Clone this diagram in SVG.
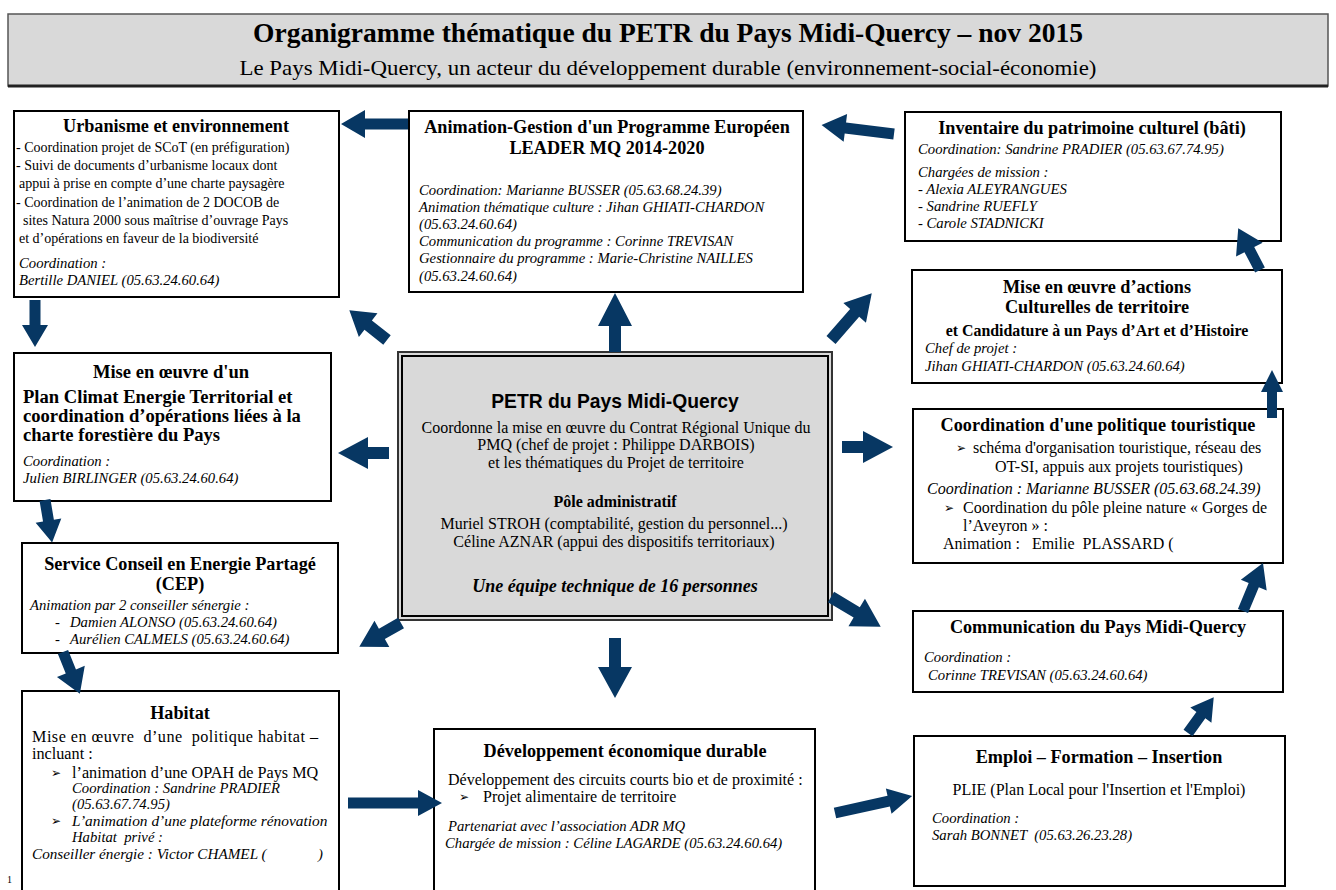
<svg xmlns="http://www.w3.org/2000/svg" width="1336" height="890" viewBox="0 0 1336 890">
<style>
.box{fill:#fff;stroke:#000;stroke-width:2}
.s{font-family:"Liberation Serif","Times New Roman",serif;fill:#000}
.t{font-family:"Liberation Serif","Times New Roman",serif;font-size:18.2px;font-weight:bold;text-anchor:middle;fill:#000}
.ts{font-family:"Liberation Serif","Times New Roman",serif;font-size:18.6px;font-weight:bold;fill:#000}
.b{font-family:"Liberation Serif","Times New Roman",serif;font-size:14px;fill:#000}
.b16{font-family:"Liberation Serif","Times New Roman",serif;font-size:16px;fill:#000}
.i{font-family:"Liberation Serif","Times New Roman",serif;font-size:14.7px;font-style:italic;fill:#000}
.c{text-anchor:middle}
.bul{font-family:"DejaVu Sans",sans-serif;font-size:12px;fill:#000}
.arr{fill:#073763}
</style>
<rect width="1336" height="890" fill="#fff"/>
<g id="header">
<rect x="8" y="14" width="1320" height="72" fill="#d9d9d9" stroke="#555" stroke-width="1.5"/>
<line x1="8" y1="86" x2="1328" y2="86" stroke="#222" stroke-width="3"/>
<text class="s" x="668" y="42" font-size="27.5" font-weight="bold" text-anchor="middle">Organigramme thématique du PETR du Pays Midi-Quercy – nov 2015</text>
<text class="s" x="668" y="75" font-size="22" text-anchor="middle" textLength="857" lengthAdjust="spacingAndGlyphs">Le Pays Midi-Quercy, un acteur du développement durable (environnement-social-économie)</text>
</g>
<g id="urbanisme">
<rect class="box" x="14" y="111" width="325" height="186"/>
<text class="t" x="176" y="132">Urbanisme et environnement</text>
<text class="b" x="16" y="152">- Coordination projet de SCoT (en préfiguration)</text>
<text class="b" x="16" y="170">- Suivi de documents d’urbanisme locaux dont</text>
<text class="b" x="19" y="188">appui à prise en compte d’une charte paysagère</text>
<text class="b" x="16" y="207">- Coordination de l’animation de 2 DOCOB de</text>
<text class="b" x="23" y="225">sites Natura 2000 sous maîtrise d’ouvrage Pays</text>
<text class="b" x="19" y="243">et d’opérations en faveur de la biodiversité</text>
<text class="i" x="19" y="268">Coordination :</text>
<text class="i" x="19" y="285">Bertille DANIEL (05.63.24.60.64)</text>
</g>
<g id="leader">
<rect class="box" x="409" y="111" width="394" height="181"/>
<text class="t" x="607" y="133">Animation-Gestion d'un Programme Européen</text>
<text class="t" x="607" y="154">LEADER MQ 2014-2020</text>
<text class="i" x="419" y="195">Coordination: Marianne BUSSER (05.63.68.24.39)</text>
<text class="i" x="419" y="212">Animation thématique culture : Jihan GHIATI-CHARDON</text>
<text class="i" x="419" y="229">(05.63.24.60.64)</text>
<text class="i" x="419" y="246">Communication du programme : Corinne TREVISAN</text>
<text class="i" x="419" y="263">Gestionnaire du programme : Marie-Christine NAILLES</text>
<text class="i" x="419" y="281">(05.63.24.60.64)</text>
</g>
<g id="inventaire">
<rect class="box" x="905" y="112" width="376" height="129"/>
<text class="t" x="1092" y="134">Inventaire du patrimoine culturel (bâti)</text>
<text class="i" x="918" y="154">Coordination: Sandrine PRADIER (05.63.67.74.95)</text>
<text class="i" x="918" y="177">Chargées de mission :</text>
<text class="i" x="918" y="194">- Alexia ALEYRANGUES</text>
<text class="i" x="918" y="211">- Sandrine RUEFLY</text>
<text class="i" x="918" y="228">- Carole STADNICKI</text>
</g>
<g id="culture">
<rect class="box" x="912" y="270" width="370" height="113"/>
<text class="t" x="1097" y="293">Mise en œuvre d’actions</text>
<text class="t" x="1097" y="313">Culturelles de territoire</text>
<text class="t" x="1097" y="336" style="font-size:15.9px">et Candidature à un Pays d’Art et d’Histoire</text>
<text class="i" x="925" y="353">Chef de projet :</text>
<text class="i" x="925" y="371">Jihan GHIATI-CHARDON (05.63.24.60.64)</text>
</g>
<g id="tourisme">
<rect class="box" x="913" y="409" width="370" height="154"/>
<text class="t" x="1098" y="431">Coordination d'une politique touristique</text>
<text class="bul" x="956" y="452">➢</text>
<text class="b16" x="973" y="453">schéma d'organisation touristique, réseau des</text>
<text class="b16" x="995" y="472">OT-SI, appuis aux projets touristiques)</text>
<text class="i" x="927" y="494" style="font-size:16px">Coordination : Marianne BUSSER (05.63.68.24.39)</text>
<text class="bul" x="944" y="512">➢</text>
<text class="b16" x="963" y="513">Coordination du pôle pleine nature « Gorges de</text>
<text class="b16" x="963" y="531">l’Aveyron » :</text>
<text class="b16" x="943" y="549" xml:space="preserve">Animation :   Emilie  PLASSARD (</text>
</g>
<g id="communication">
<rect class="box" x="913" y="611" width="370" height="81"/>
<text class="t" x="1098" y="633">Communication du Pays Midi-Quercy</text>
<text class="i" x="924" y="662">Coordination :</text>
<text class="i" x="928" y="680">Corinne TREVISAN (05.63.24.60.64)</text>
</g>
<g id="emploi">
<rect class="box" x="914" y="736" width="371" height="150"/>
<text class="t" x="1099" y="763">Emploi – Formation – Insertion</text>
<text class="b16 c" x="1099" y="795">PLIE (Plan Local pour l'Insertion et l'Emploi)</text>
<text class="i" x="932" y="823">Coordination :</text>
<text class="i" x="932" y="840" xml:space="preserve">Sarah BONNET  (05.63.26.23.28)</text>
</g>
<g id="developpement">
<rect class="box" x="434" y="729" width="381" height="175"/>
<text class="t" x="625" y="757">Développement économique durable</text>
<text class="b16" x="448" y="785">Développement des circuits courts bio et de proximité :</text>
<text class="bul" x="459" y="801">➢</text>
<text class="b16" x="483" y="802">Projet alimentaire de territoire</text>
<text class="i" x="448" y="831">Partenariat avec l’association ADR MQ</text>
<text class="i" x="445" y="848">Chargée de mission : Céline LAGARDE (05.63.24.60.64)</text>
</g>
<g id="habitat">
<rect class="box" x="22" y="691" width="317" height="215"/>
<text class="t" x="180" y="719">Habitat</text>
<text class="s" x="32" y="742" font-size="16.2" xml:space="preserve" textLength="286" lengthAdjust="spacing">Mise en œuvre  d’une  politique habitat –</text>
<text class="s" x="32" y="759" font-size="16.2">incluant :</text>
<text class="bul" x="51" y="777">➢</text>
<text class="s" x="72" y="778" font-size="16.2">l’animation d’une OPAH de Pays MQ</text>
<text class="i" x="72" y="793">Coordination : Sandrine PRADIER</text>
<text class="i" x="72" y="809">(05.63.67.74.95)</text>
<text class="bul" x="51" y="825">➢</text>
<text class="i" x="72" y="826" style="font-size:15.4px">L’animation d’une plateforme rénovation</text>
<text class="i" x="72" y="842" xml:space="preserve">Habitat  privé :</text>
<text class="i" x="32" y="859" style="font-size:15.2px">Conseiller énergie : Victor CHAMEL (</text>
<text class="i" x="318" y="859">)</text>
</g>
<g id="page">
<text class="s" x="7" y="883" font-size="10">1</text>
</g>
<g id="climat">
<rect class="box" x="14" y="353" width="317" height="148"/>
<text class="t" x="171" y="378" style="font-size:18.6px">Mise en œuvre d'un</text>
<text class="ts" x="23" y="403">Plan Climat Energie Territorial et</text>
<text class="ts" x="23" y="422">coordination d’opérations liées à la</text>
<text class="ts" x="23" y="441">charte forestière du Pays</text>
<text class="i" x="23" y="466">Coordination :</text>
<text class="i" x="23" y="483">Julien BIRLINGER (05.63.24.60.64)</text>
</g>
<g id="cep">
<rect class="box" x="22" y="543" width="316" height="110"/>
<text class="t" x="180" y="570">Service Conseil en Energie Partagé</text>
<text class="t" x="180" y="590">(CEP)</text>
<text class="i" x="30" y="610">Animation par 2 conseiller sénergie :</text>
<text class="i" x="55" y="627">-</text>
<text class="i" x="70" y="627">Damien ALONSO (05.63.24.60.64)</text>
<text class="i" x="55" y="644">-</text>
<text class="i" x="70" y="644">Aurélien CALMELS (05.63.24.60.64)</text>
</g>
<g id="petr">
<rect x="398" y="352" width="434" height="268" fill="#d9d9d9" stroke="#333" stroke-width="2"/>
<rect x="402" y="356" width="426" height="260" fill="none" stroke="#000" stroke-width="2"/>
<text x="615" y="408" font-family="'Liberation Sans',Arial,sans-serif" font-size="19.3" font-weight="bold" text-anchor="middle">PETR du Pays Midi-Quercy</text>
<text class="s c" x="616" y="433" font-size="16">Coordonne la mise en œuvre du Contrat Régional Unique du</text>
<text class="s c" x="616" y="450" font-size="16">PMQ (chef de projet : Philippe DARBOIS)</text>
<text class="s c" x="616" y="468" font-size="16">et les thématiques du Projet de territoire</text>
<text class="s c" x="615" y="507" font-size="16" font-weight="bold">Pôle administratif</text>
<text class="s c" x="614" y="529" font-size="16">Muriel STROH (comptabilité, gestion du personnel...)</text>
<text class="s c" x="614" y="547" font-size="16">Céline AZNAR (appui des dispositifs territoriaux)</text>
<text class="s c" x="615" y="592" font-size="18" font-weight="bold" font-style="italic">Une équipe technique de 16 personnes</text>
</g>
<g id="connectors" class="arr">
<path d="M0,-5.5 H43 V-14 L67,0 L43,14 V5.5 H0 Z" transform="translate(408,124) rotate(180)"/>
<path d="M0,-5.5 H49 V-14 L73,0 L49,14 V5.5 H0 Z" transform="translate(894,134) rotate(-172.9)"/>
<path d="M0,-5.5 H25 V-13 L47,0 L25,13 V5.5 H0 Z" transform="translate(35,300) rotate(90)"/>
<path d="M0,-6 H26 V-17 L59,0 L26,17 V6 H0 Z" transform="translate(615,352) rotate(-90)"/>
<path d="M0,-6 H24 V-15 L48,0 L24,15 V6 H0 Z" transform="translate(387,340) rotate(218.3)"/>
<path d="M0,-6 H36 V-15 L62,0 L36,15 V6 H0 Z" transform="translate(831,340) rotate(-48.9)"/>
<path d="M0,-6 H21 V-16 L51,0 L21,16 V6 H0 Z" transform="translate(389,453) rotate(180)"/>
<path d="M0,-6 H21 V-16 L51,0 L21,16 V6 H0 Z" transform="translate(842,447)"/>
<path d="M0,-6 H22 V-15 L48,0 L22,15 V6 H0 Z" transform="translate(401,623) rotate(150.3)"/>
<path d="M0,-6 H30 V-16 L58,0 L30,16 V6 H0 Z" transform="translate(831,597) rotate(31)"/>
<path d="M0,-6 H29 V-17 L60,0 L29,17 V6 H0 Z" transform="translate(615,638) rotate(90)"/>
<path d="M0,-5.5 H21 V-13 L43,0 L21,13 V5.5 H0 Z" transform="translate(45,500) rotate(80.5)"/>
<path d="M0,-5.5 H21 V-15 L45,0 L21,15 V5.5 H0 Z" transform="translate(63,652) rotate(68)"/>
<path d="M0,-5.5 H70 V-13 L94,0 L70,13 V5.5 H0 Z" transform="translate(348,803)"/>
<path d="M0,-5.5 H55 V-13 L79,0 L55,13 V5.5 H0 Z" transform="translate(835,813) rotate(-12.5)"/>
<path d="M0,-5.5 H22 V-13 L44,0 L22,13 V5.5 H0 Z" transform="translate(1188,733) rotate(-54.2)"/>
<path d="M0,-5.5 H28 V-14 L52,0 L28,14 V5.5 H0 Z" transform="translate(1243,611) rotate(-67.4)"/>
<path d="M0,-5 H26 V-11 L48,0 L26,11 V5 H0 Z" transform="translate(1272,418) rotate(-90)"/>
<path d="M0,-5.5 H23 V-15 L47,0 L23,15 V5.5 H0 Z" transform="translate(1260,270) rotate(-117.6)"/>
</g>
</svg>
